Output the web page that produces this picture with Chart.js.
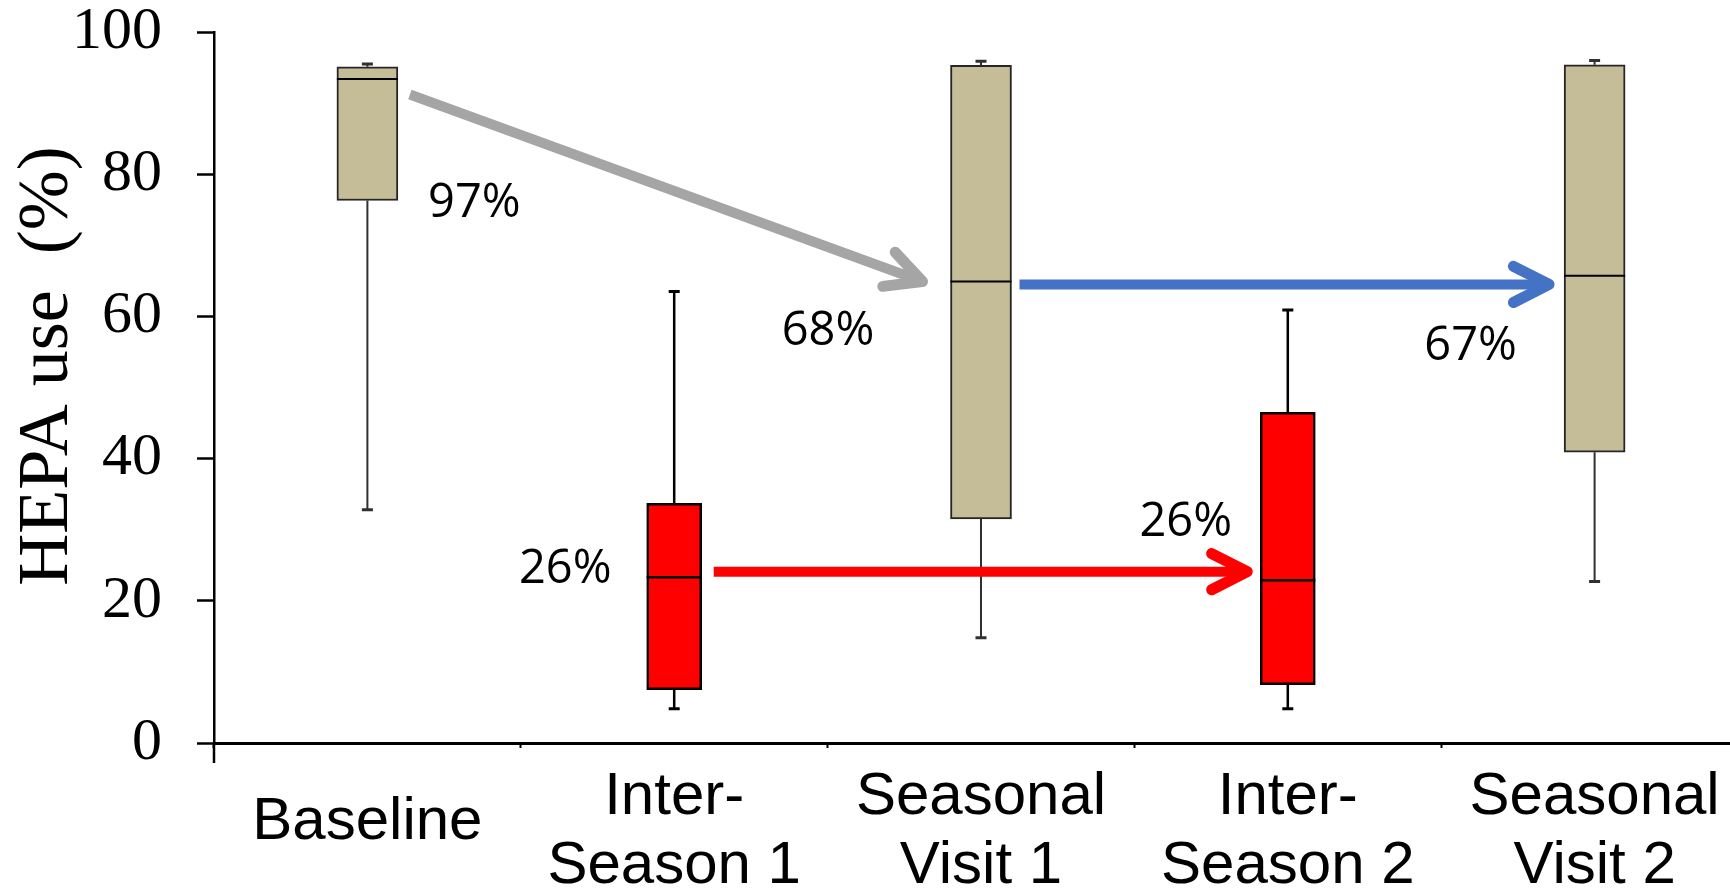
<!DOCTYPE html>
<html><head><meta charset="utf-8">
<script src="https://cdn.jsdelivr.net/npm/chart.js@4.4.1/dist/chart.umd.min.js"></script>
<style>html,body{margin:0;padding:0;background:#fff;overflow:hidden;} canvas{display:block;}</style>
</head><body>
<canvas id="c" width="1760" height="888"></canvas>
<script>
// ---- data ----
const categories = ['Baseline', ['Inter-', 'Season 1'], ['Seasonal', 'Visit 1'], ['Inter-', 'Season 2'], ['Seasonal', 'Visit 2']];
const whiskerLow  = [32.8, 4.8, 14.8, 4.8, 22.7];
const quartile1   = [76.3, 7.5, 31.5, 8.2, 40.9];
const medians     = [93.4, 23.3, 64.9, 22.9, 65.7];
const quartile3   = [95.1, 33.7, 95.3, 46.5, 95.4];
const whiskerHigh = [95.5, 63.5, 95.9, 60.9, 96.0];
const isInterSeason = [false, true, false, true, false];
const yTicks = [0, 20, 40, 60, 80, 100];
const yTitle = 'HEPA use  (%)';
// arrows: from category -> to category, value levels
const arrowFrom = [0, 2, 1];
const arrowTo = [2, 4, 3];
const arrowFromValue = [93.4, 64.5, 24.1];
const arrowToValue = [64.9, 64.5, 24.1];
const changeLabels = ['97%', '68%', '26%', '26%', '67%'];

// ---- styling / annotation layout ----
const arrowStyle = [
  {color: '#A5A5A5', gapStart: 12, gapEnd: 33},
  {color: '#4472C4', gapStart: 8, gapEnd: 20},
  {color: '#FF0000', gapStart: 12, gapEnd: 18}
];
const labelLayout = [ // category anchor, pixel dx from box centre, value level
  {cat: 0, dx: 107, v: 76.5},
  {cat: 2, dx: -153, v: 58.5},
  {cat: 1, dx: -109, v: 24.9},
  {cat: 3, dx: -102, v: 31.6},
  {cat: 4, dx: -124, v: 56.3}
];

const seasonalBoxes = categories.map((c, i) => isInterSeason[i] ? null : [quartile1[i], quartile3[i]]);
const interBoxes = categories.map((c, i) => isInterSeason[i] ? [quartile1[i], quartile3[i]] : null);

function boxGeom(chart, i) {
  const ds = isInterSeason[i] ? 1 : 0;
  const el = chart.getDatasetMeta(ds).data[i];
  return {x: el.x, w: el.width};
}

const boxPlugin = {
  id: 'boxParts',
  beforeDatasetsDraw(chart) {
    const ctx = chart.ctx, ys = chart.scales.y;
    ctx.save();
    for (let i = 0; i < categories.length; i++) {
      const {x} = boxGeom(chart, i);
      const inter = isInterSeason[i];
      ctx.strokeStyle = inter ? '#000' : '#303030';
      ctx.lineWidth = inter ? 2.5 : 2;
      ctx.beginPath();
      ctx.moveTo(x, ys.getPixelForValue(quartile3[i]));
      ctx.lineTo(x, ys.getPixelForValue(whiskerHigh[i]));
      ctx.moveTo(x, ys.getPixelForValue(quartile1[i]));
      ctx.lineTo(x, ys.getPixelForValue(whiskerLow[i]));
      ctx.stroke();
      ctx.lineWidth = 3;
      ctx.beginPath();
      for (const v of [whiskerHigh[i], whiskerLow[i]]) {
        const y = ys.getPixelForValue(v);
        ctx.moveTo(x - 5.5, y); ctx.lineTo(x + 5.5, y);
      }
      ctx.stroke();
    }
    ctx.restore();
  },
  afterDatasetsDraw(chart) {
    const ctx = chart.ctx, ys = chart.scales.y;
    ctx.save();
    for (let i = 0; i < categories.length; i++) {
      const {x, w} = boxGeom(chart, i);
      const y = ys.getPixelForValue(medians[i]);
      ctx.strokeStyle = '#000';
      ctx.lineWidth = isInterSeason[i] ? 2.5 : 2;
      ctx.beginPath(); ctx.moveTo(x - w / 2, y); ctx.lineTo(x + w / 2, y); ctx.stroke();
    }
    for (let k = 0; k < arrowFrom.length; k++) {
      const a = boxGeom(chart, arrowFrom[k]);
      const b = boxGeom(chart, arrowTo[k]);
      const st = arrowStyle[k];
      const x0 = a.x, y0 = ys.getPixelForValue(arrowFromValue[k]);
      const x1 = b.x - b.w / 2 - st.gapEnd + 5, y1 = ys.getPixelForValue(arrowToValue[k]);
      const dx = x1 - x0, dy = y1 - y0;
      const t = (a.w / 2 + st.gapStart) / dx;
      drawArrow(ctx, x0 + dx * t, y0 + dy * t, x1, y1, st.color, 10);
    }
    ctx.restore();
  },
  afterDraw(chart) {
    const ctx = chart.ctx, ys = chart.scales.y, area = chart.chartArea;
    ctx.save();
    ctx.strokeStyle = '#000'; ctx.lineWidth = 2.5;
    ctx.beginPath(); ctx.moveTo(area.left, area.bottom); ctx.lineTo(area.left, 763); ctx.stroke();
    ctx.fillStyle = '#000';
    ctx.font = '72px "Liberation Serif", "Times New Roman", serif';
    ctx.translate(66.5, 366); ctx.rotate(-Math.PI / 2);
    ctx.textAlign = 'center'; ctx.textBaseline = 'alphabetic';
    ctx.fillText(yTitle, 0, 0);
    ctx.restore();
    ctx.save();
    ctx.fillStyle = '#000';
    ctx.font = '47px "Open Sans", sans-serif';
    ctx.textAlign = 'center'; ctx.textBaseline = 'alphabetic';
    const capH = ctx.measureText('0').actualBoundingBoxAscent;
    changeLabels.forEach((txt, k) => {
      const L = labelLayout[k];
      const {x} = boxGeom(chart, L.cat);
      const y = ys.getPixelForValue(L.v);
      ctx.fillText(txt, x + L.dx, y + capH / 2);
    });
    ctx.restore();
  }
};

function drawArrow(ctx, x0, y0, x1, y1, color, width) {
  ctx.save();
  ctx.strokeStyle = color;
  const ang = Math.atan2(y1 - y0, x1 - x0);
  ctx.lineWidth = width; ctx.lineCap = 'butt';
  ctx.beginPath();
  ctx.moveTo(x0, y0);
  ctx.lineTo(x1 - Math.cos(ang) * width * 0.6, y1 - Math.sin(ang) * width * 0.6);
  ctx.stroke();
  const L = 40, a = 0.47;
  ctx.lineWidth = width * 1.1; ctx.lineCap = 'round'; ctx.lineJoin = 'round';
  ctx.beginPath();
  ctx.moveTo(x1 - L * Math.cos(ang - a), y1 - L * Math.sin(ang - a));
  ctx.lineTo(x1, y1);
  ctx.lineTo(x1 - L * Math.cos(ang + a), y1 - L * Math.sin(ang + a));
  ctx.stroke();
  ctx.restore();
}

new Chart(document.getElementById('c'), {
  type: 'bar',
  data: {
    labels: categories,
    datasets: [
      {data: seasonalBoxes, backgroundColor: '#C4BD97', borderColor: '#262626', borderWidth: 2, borderSkipped: false, barThickness: 61, grouped: false},
      {data: interBoxes, backgroundColor: '#FF0000', borderColor: '#000000', borderWidth: 2.5, borderSkipped: false, barThickness: 55, grouped: false}
    ]
  },
  options: {
    responsive: false,
    animation: false,
    devicePixelRatio: 1,
    layout: {padding: {top: 32, right: 12, bottom: 0, left: 0}},
    plugins: {legend: {display: false}, tooltip: {enabled: false}},
    scales: {
      x: {
        type: 'category',
        offset: true,
        grid: {display: true, drawOnChartArea: false, drawTicks: true, tickLength: 5, tickWidth: 2, tickColor: '#000', offset: true},
        border: {display: true, color: '#000', width: 3},
        ticks: {
          color: '#000', padding: 14.2, maxRotation: 0, minRotation: 0, autoSkip: false,
          font: (c) => ({family: '"Liberation Sans", Arial, sans-serif', size: 60,
            lineHeight: Array.isArray(categories[c.index]) ? 1.16 : 1.993})
        },
        afterFit(s) { s.height = 145; s.paddingLeft = 0; s.paddingRight = 0; }
      },
      y: {
        min: 0, max: 100,
        afterBuildTicks(s) { s.ticks = yTicks.map(v => ({value: v})); },
        grid: {display: true, drawOnChartArea: false, drawTicks: true, tickLength: 17, tickWidth: 2.5, tickColor: '#000'},
        border: {display: true, color: '#000', width: 2.5},
        ticks: {color: '#000', padding: 35, font: {family: '"Liberation Serif", "Times New Roman", serif', size: 60, lineHeight: 1}},
        afterFit(s) { s.width = 214; s.paddingTop = 0; s.paddingBottom = 0; }
      }
    }
  },
  plugins: [boxPlugin]
});
</script>
</body></html>
